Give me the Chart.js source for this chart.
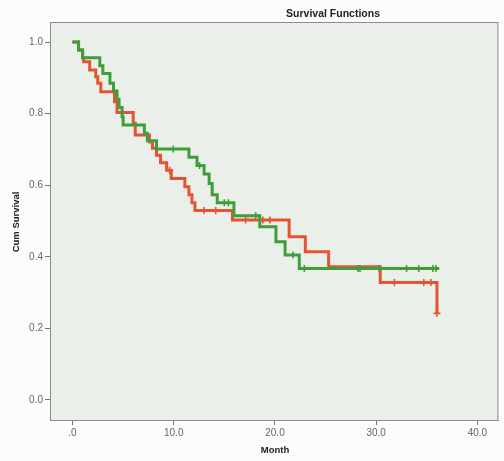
<!DOCTYPE html>
<html>
<head>
<meta charset="utf-8">
<script src="https://cdn.jsdelivr.net/npm/chart.js@4/dist/chart.umd.min.js"></script>
<style>
  html,body{margin:0;padding:0;background:#fbfcfb;}
  #wrap{width:504px;height:461px;position:relative;}
</style>
</head>
<body>
<div id="wrap"><canvas id="c" width="504" height="461"></canvas></div>
<script>
// ---- data ----
const chartTitle = "Survival Functions";
const xAxisTitle = "Month";
const yAxisTitle = "Cum Survival";
const xTicks = [0, 10, 20, 30, 40];
const xTickLabels = [".0", "10.0", "20.0", "30.0", "40.0"];
const yTicks = [0, 0.2, 0.4, 0.6, 0.8, 1.0];
const yTickLabels = ["0.0", "0.2", "0.4", "0.6", "0.8", "1.0"];

// Green group: step times and survival after each step
const greenTimes = [0, 0.6, 1.0, 2.7, 3.0, 3.7, 4.05, 4.4, 4.6, 4.9, 5.0, 7.1, 7.4, 8.3, 11.5, 12.3, 13.0, 13.5, 13.8, 14.3, 15.95, 18.5, 20.1, 21.0, 22.4, 36.2];
const greenSurv  = [1.0, 0.978, 0.956, 0.934, 0.912, 0.885, 0.863, 0.840, 0.817, 0.791, 0.768, 0.745, 0.724, 0.701, 0.678, 0.655, 0.631, 0.605, 0.573, 0.551, 0.515, 0.484, 0.442, 0.405, 0.367, 0.367];
const greenCensTimes = [9.95, 12.55, 15.0, 15.4, 18.1, 21.8, 22.9, 28.2, 28.4, 30.3, 33.0, 34.2, 35.6, 35.9];
const greenCensSurv  = [0.701, 0.655, 0.551, 0.551, 0.515, 0.405, 0.367, 0.367, 0.367, 0.367, 0.367, 0.367, 0.367, 0.367];

// Red group
const redTimes = [0, 0.6, 1.0, 1.1, 1.7, 2.3, 2.5, 2.8, 4.15, 4.4, 6.0, 6.2, 7.6, 7.9, 8.3, 8.7, 9.3, 9.75, 11.1, 11.5, 11.8, 12.1, 15.8, 21.4, 23.0, 25.3, 30.4, 36.0, 36.0];
const redSurv  = [1.0, 0.978, 0.956, 0.945, 0.922, 0.903, 0.885, 0.861, 0.833, 0.803, 0.773, 0.740, 0.721, 0.703, 0.684, 0.663, 0.642, 0.619, 0.596, 0.573, 0.551, 0.529, 0.503, 0.456, 0.414, 0.372, 0.328, 0.328, 0.242];
const redCensTimes = [9.6, 13.0, 14.15, 17.1, 18.8, 19.5, 31.8, 34.7, 35.4, 36.0];
const redCensSurv  = [0.642, 0.529, 0.529, 0.503, 0.503, 0.503, 0.328, 0.328, 0.328, 0.242];

const greenColor = "rgb(62,158,58)";
const redColor = "rgb(229,84,50)";

const pts = (xs, ys) => xs.map((x, i) => ({x: x, y: ys[i]}));

const plotDecor = {
  id: "plotDecor",
  beforeDatasetsDraw(chart) {
    const {ctx, chartArea: a} = chart;
    ctx.save();
    ctx.fillStyle = "#ebefe9";
    ctx.fillRect(a.left, a.top, a.right - a.left, a.bottom - a.top);
    ctx.restore();
  },
  afterDraw(chart) {
    const {ctx, chartArea: a} = chart;
    ctx.save();
    ctx.strokeStyle = "#8c8c8c";
    ctx.lineWidth = 1;
    ctx.strokeRect(a.left + 0.5, a.top + 0.5, a.right - a.left - 1, a.bottom - a.top);
    ctx.fillStyle = "#222";
    ctx.textAlign = "center";
    ctx.textBaseline = "middle";
    ctx.font = "bold 10.5px 'Liberation Sans', Arial, sans-serif";
    ctx.fillText(chartTitle, 333, 14);
    ctx.font = "bold 9.5px 'Liberation Sans', Arial, sans-serif";
    ctx.fillText(xAxisTitle, 275, 450);
    ctx.translate(16, 222);
    ctx.rotate(-Math.PI / 2);
    ctx.fillText(yAxisTitle, 0, 0);
    ctx.restore();
  }
};

new Chart(document.getElementById("c"), {
  type: "line",
  data: {
    datasets: [
      {label: "green", data: pts(greenTimes, greenSurv), stepped: "before", borderColor: greenColor, borderWidth: 3, pointRadius: 0, fill: false, order: 1},
      {label: "green censored", data: pts(greenCensTimes, greenCensSurv), showLine: false, pointStyle: "cross", pointRadius: 3.5, borderColor: greenColor, backgroundColor: greenColor, pointBorderWidth: 1.6, order: 0},
      {label: "red", data: pts(redTimes, redSurv), stepped: "before", borderColor: redColor, borderWidth: 3, pointRadius: 0, fill: false, order: 3},
      {label: "red censored", data: pts(redCensTimes, redCensSurv), showLine: false, pointStyle: "cross", pointRadius: 3.5, borderColor: redColor, backgroundColor: redColor, pointBorderWidth: 1.6, order: 2}
    ]
  },
  options: {
    responsive: false,
    animation: false,
    events: [],
    layout: {padding: {top: 22, right: 5, left: 0, bottom: 0}},
    plugins: {legend: {display: false}, title: {display: false}, tooltip: {enabled: false}},
    scales: {
      x: {
        type: "linear",
        min: -2.22,
        max: 42.07,
        afterFit(s) { s.height = 41; },
        afterBuildTicks(s) { s.ticks = xTicks.map(v => ({value: v})); },
        grid: {display: true, drawOnChartArea: false, drawTicks: true, tickLength: 5, color: "#777"},
        border: {display: true, color: "#8c8c8c"},
        ticks: {
          padding: 2,
          color: "#666",
          font: {family: "'Liberation Sans', Arial, sans-serif", size: 10},
          maxRotation: 0,
          callback: (v) => { const i = xTicks.indexOf(v); return i >= 0 ? xTickLabels[i] : ""; }
        }
      },
      y: {
        type: "linear",
        min: -0.056,
        max: 1.056,
        afterFit(s) { s.width = 50; },
        afterBuildTicks(s) { s.ticks = yTicks.map(v => ({value: v})); },
        grid: {display: true, drawOnChartArea: false, drawTicks: true, tickLength: 5, color: "#777"},
        border: {display: true, color: "#8c8c8c"},
        ticks: {
          padding: 2,
          color: "#666",
          font: {family: "'Liberation Sans', Arial, sans-serif", size: 10},
          callback: (v) => { const i = yTicks.findIndex(t => Math.abs(t - v) < 1e-9); return i >= 0 ? yTickLabels[i] : ""; }
        }
      }
    }
  },
  plugins: [plotDecor]
});
</script>
</body>
</html>
